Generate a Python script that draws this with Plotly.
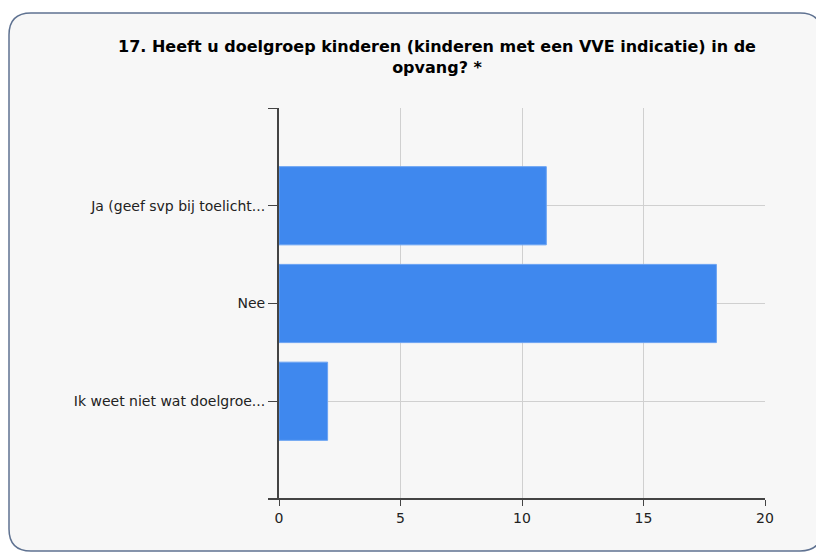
import plotly.graph_objects as go

categories = ["Ik weet niet wat doelgroe...", "Nee", "Ja (geef svp bij toelicht..."]
values = [2, 18, 11]
x_ticks = [0, 5, 10, 15, 20]
title_text = "17. Heeft u doelgroep kinderen (kinderen met een VVE indicatie) in de<br>opvang? *"

# page has an 8px body margin, so figure coords = page coords - 8
W, H = 816, 545
L, R, T, B = 271, 757, 100, 491

def px(x):
    return (x - L) / (R - L)

def py(y):
    return (B - y) / (B - T)

# rounded card
x0, x1, y0, y1, r = 1, 814, 5, 543, 22
path = (f"M {px(x0+r)},{py(y0)} L {px(x1-r)},{py(y0)} "
        f"Q {px(x1)},{py(y0)} {px(x1)},{py(y0+r)} "
        f"L {px(x1)},{py(y1-r)} Q {px(x1)},{py(y1)} {px(x1-r)},{py(y1)} "
        f"L {px(x0+r)},{py(y1)} Q {px(x0)},{py(y1)} {px(x0)},{py(y1-r)} "
        f"L {px(x0)},{py(y0+r)} Q {px(x0)},{py(y0)} {px(x0+r)},{py(y0)} Z")

ypos = list(range(len(categories)))

fig = go.Figure(go.Bar(
    x=values, y=ypos, orientation="h",
    marker=dict(color="#3f88ee", line=dict(color="#6aa3f3", width=1)),
    width=0.8, hoverinfo="x+text", text=categories, textposition="none",
))

fig.update_layout(
    width=W, height=H,
    margin=dict(l=L, r=W - R, t=T, b=H - B),
    paper_bgcolor="white", plot_bgcolor="rgba(0,0,0,0)",
    showlegend=False,
    font=dict(family="DejaVu Sans", size=14, color="#222222"),
    title=dict(text=title_text, x=(437 - 8) / W, xref="container", xanchor="center",
               y=1 - 44 / H, yref="container", yanchor="top",
               font=dict(family="DejaVu Sans", size=16, color="#000000", weight="bold")),
    shapes=[dict(type="path", path=path, xref="paper", yref="paper",
                 fillcolor="#f7f7f7", line=dict(color="#5f7291", width=1.5), layer="below")],
    xaxis=dict(range=[0, 20], tickvals=x_ticks, ticks="outside", ticklen=6,
               tickcolor="#444", showgrid=True, gridcolor="#d0d0d0", gridwidth=1,
               zeroline=False, showline=False, tickfont=dict(size=14)),
    yaxis=dict(range=[-1, len(categories)], tickvals=[-1] + ypos + [len(categories)],
               ticktext=[""] + categories + [""], ticks="outside", ticklen=9,
               tickcolor="#444", showgrid=True, gridcolor="#d0d0d0",
               zeroline=False, showline=True, linecolor="#444", linewidth=2,
               tickfont=dict(size=14)),
)
# extended x axis line
fig.add_shape(type="line", xref="paper", yref="paper", x0=px(L - 11), x1=1, y0=0, y1=0,
              line=dict(color="#444", width=2), layer="above")

fig.write_html("out.html")
